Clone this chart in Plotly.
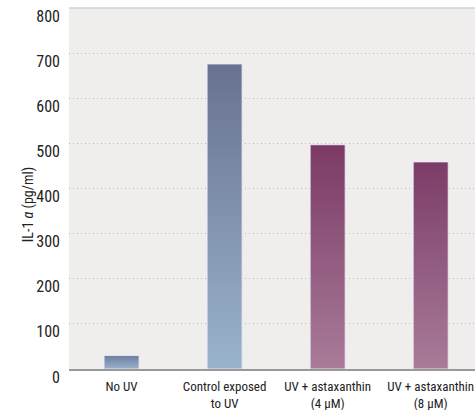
import plotly.graph_objects as go

categories = ["No UV", "Control exposed<br>to UV", "UV + astaxanthin<br>(4 μM)", "UV + astaxanthin<br>(8 μM)"]
values = [30, 676, 497, 459]
top_colors = ["#6c7e9f", "#687290", "#7b3a65", "#7c3c67"]
bottom_colors = ["#9bb1cc", "#9ab3cd", "#a97b99", "#a97b99"]
y_ticks = [0, 100, 200, 300, 400, 500, 600, 700, 800]

FONT = "Liberation Sans Narrow, Arial Narrow, Roboto Condensed, sans-serif"
bar_w = 0.34

fig = go.Figure()
for i, (v, tc, bc) in enumerate(zip(values, top_colors, bottom_colors)):
    x0, x1 = i - bar_w / 2, i + bar_w / 2
    fig.add_trace(go.Scatter(
        x=[x0, x0, x1, x1, x0], y=[0, v, v, 0, 0],
        mode="lines", fill="toself",
        line=dict(color="rgba(235,235,245,0.9)", width=1),
        fillgradient=dict(type="vertical", start=0, stop=v,
                          colorscale=[[0, bc], [1, tc]]),
        hoverinfo="skip", showlegend=False,
    ))

fig.update_layout(
    width=475, height=410,
    margin=dict(l=69, r=0, t=8, b=41, autoexpand=False),
    paper_bgcolor="white", plot_bgcolor="#efeeec",
    font=dict(family=FONT, size=14, color="#222"),
    showlegend=False,
    xaxis=dict(range=[-0.51, 3.43], tickvals=list(range(len(categories))),
               ticktext=categories, showgrid=False, zeroline=False,
               showline=True, linecolor="#999", linewidth=1.5,
               ticks="", ticklabelstandoff=5, automargin=False,
               ticklabeloverflow="allow",
               tickfont=dict(size=13, family=FONT, color="#222"),
               fixedrange=True),
    yaxis=dict(range=[0, 800], tickvals=y_ticks, showgrid=True,
               gridcolor="#bdbdbd", griddash="1px,3px", gridwidth=1,
               zeroline=False, showline=False, ticks="", automargin=False,
               ticklabelstandoff=8, ticklabelshift=8,
               ticklabeloverflow="allow",
               tickfont=dict(size=16, family=FONT, color="#222"),
               fixedrange=True),
    shapes=[dict(type="line", xref="paper", yref="paper", x0=0, x1=1, y0=1, y1=1,
                 line=dict(color="#d4d2d0", width=1.5))],
    annotations=[dict(text="IL-1 <i>α</i> (pg/ml)", xref="paper", yref="paper",
                      x=-0.1, y=0.455, textangle=-90, showarrow=False,
                      xanchor="center", yanchor="middle",
                      font=dict(size=14, family=FONT, color="#222"))],
)

fig.write_html("out.html", post_script="document.body.style.margin='0';",
               config={"displayModeBar": False})
